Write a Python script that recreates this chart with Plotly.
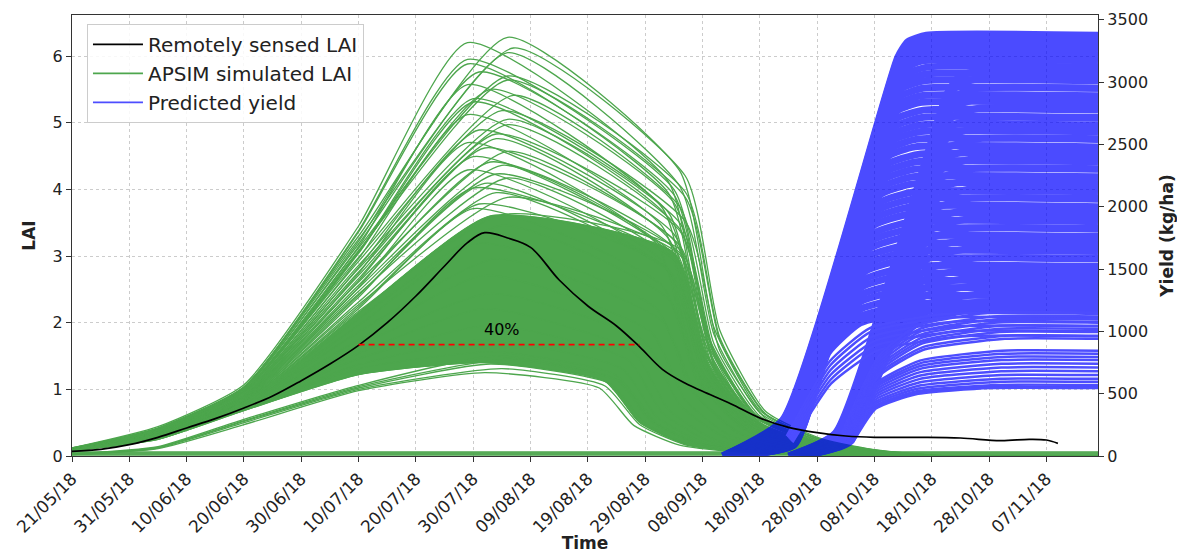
import pandas as pd
import plotly.graph_objects as go

BASE = pd.Timestamp("2018-05-21")
X_END_DAY = 179.0

# ---------------- axis ticks ----------------
tick_dates = ["2018-05-21", "2018-05-31", "2018-06-10", "2018-06-20", "2018-06-30",
              "2018-07-10", "2018-07-20", "2018-07-30", "2018-08-09", "2018-08-19",
              "2018-08-29", "2018-09-08", "2018-09-18", "2018-09-28", "2018-10-08",
              "2018-10-18", "2018-10-28", "2018-11-07"]
tick_labels = ["21/05/18", "31/05/18", "10/06/18", "20/06/18", "30/06/18", "10/07/18",
               "20/07/18", "30/07/18", "09/08/18", "19/08/18", "29/08/18", "08/09/18",
               "18/09/18", "28/09/18", "08/10/18", "18/10/18", "28/10/18", "07/11/18"]
lai_ticks = [0, 1, 2, 3, 4, 5, 6]
yield_ticks = [0, 500, 1000, 1500, 2000, 2500, 3000, 3500]

# ---------------- remotely sensed LAI (days after 21/05/18) ----------------
rs_day = [0, 5, 10, 15, 20, 25, 30, 35, 40, 45, 50, 55, 60, 65, 69, 72, 76, 80, 85, 90,
          95, 99, 103, 107, 110, 115, 120, 125, 130, 135, 140, 148, 155, 162, 167, 170, 172]
rs_lai = [0.07, 0.10, 0.17, 0.28, 0.42, 0.56, 0.72, 0.90, 1.13, 1.38, 1.66, 2.00, 2.40, 2.85,
          3.20, 3.35, 3.27, 3.13, 2.64, 2.25, 1.95, 1.64, 1.30, 1.09, 0.97, 0.78, 0.57, 0.43,
          0.35, 0.30, 0.28, 0.28, 0.27, 0.23, 0.25, 0.24, 0.19]

# 40 % threshold line
thr_day = [50, 99]
thr_lai = [1.67, 1.67]
thr_label_day = 75
thr_label_lai = 1.9

# ---------------- APSIM simulated LAI ensemble (key points per simulation) ----------------
g_start = [0.12, 0.12, 0.12, 0.11, 0.11, 0.11, 0.11, 0.11, 0.11, 0.10,
           0.10, 0.10, 0.10, 0.10, 0.10, 0.10, 0.10, 0.10, 0.10, 0.10,
           0.10, 0.10, 0.10, 0.10, 0.09, 0.09, 0.09, 0.09, 0.09, 0.09,
           0.09, 0.09, 0.09, 0.09, 0.09, 0.09, 0.09, 0.09,
           0.09, 0.08, 0.08, 0.08, 0.08, 0.08, 0.08, 0.08, 0.08, 0.08,
           0.03, 0.02, 0.02, 0.02, 0.03]
g_d15 = [0.42, 0.44, 0.42, 0.41, 0.41, 0.40, 0.40, 0.40, 0.39, 0.38,
         0.38, 0.38, 0.38, 0.37, 0.37, 0.36, 0.36, 0.36, 0.35, 0.35,
         0.35, 0.34, 0.34, 0.34, 0.33, 0.33, 0.33, 0.32, 0.32, 0.32,
         0.31, 0.31, 0.31, 0.31, 0.30, 0.30, 0.30, 0.30,
         0.30, 0.29, 0.28, 0.28, 0.27, 0.27, 0.26, 0.26, 0.25, 0.25,
         0.14, 0.13, 0.12, 0.11, 0.13]
g_d30 = [1.04, 1.07, 1.03, 1.02, 1.03, 1.01, 1.00, 0.99, 0.98, 0.97,
         0.97, 0.96, 0.96, 0.95, 0.94, 0.93, 0.92, 0.91, 0.90, 0.90,
         0.89, 0.88, 0.88, 0.87, 0.86, 0.86, 0.85, 0.84, 0.84, 0.83,
         0.82, 0.82, 0.81, 0.81, 0.80, 0.80, 0.80, 0.79,
         0.79, 0.77, 0.76, 0.75, 0.74, 0.73, 0.72, 0.71, 0.70, 0.68,
         0.55, 0.52, 0.50, 0.47, 0.53]
g_d50 = [3.30, 3.45, 3.25, 3.18, 3.38, 3.36, 3.22, 3.12, 3.08, 3.14,
         3.06, 2.98, 3.06, 3.04, 2.92, 2.96, 2.86, 2.81, 2.83, 2.76,
         2.71, 2.74, 2.66, 2.61, 2.63, 2.56, 2.52, 2.53, 2.47, 2.43,
         2.41, 2.38, 2.31, 2.27, 2.24, 2.21, 2.17, 2.15,
         2.06, 1.96, 1.86, 1.74, 1.66, 1.54, 1.46, 1.37, 1.31, 1.22,
         1.06, 1.02, 1.00, 0.98, 1.04]
g_peak_day = [76, 69, 77, 76, 69, 69, 71, 76, 76, 69,
              73, 77, 70, 70, 75, 69, 76, 76, 71, 74,
              74, 69, 72, 76, 70, 73, 75, 69, 74, 76,
              72, 70, 74, 76, 71, 70, 75, 73,
              75, 71, 74, 72, 73, 72, 73, 72, 74, 72,
              74, 73, 75, 72, 76]
g_peak = [6.28, 6.20, 6.12, 6.05, 5.95, 5.88, 5.76, 5.70, 5.64, 5.57,
          5.50, 5.41, 5.36, 5.31, 5.18, 5.12, 5.05, 4.97, 4.89, 4.83,
          4.76, 4.70, 4.62, 4.57, 4.49, 4.41, 4.36, 4.29, 4.23, 4.17,
          4.09, 4.02, 3.95, 3.88, 3.78, 3.71, 3.62, 3.60,
          3.46, 3.19, 2.96, 2.71, 2.44, 2.21, 1.96, 1.74, 1.56, 1.40,
          1.50, 1.38, 1.31, 1.25, 1.45]
g_drop_day = [106, 104, 107, 106, 105, 104, 105, 107, 107, 103,
              105, 106, 104, 104, 107, 103, 106, 106, 105, 106,
              104, 102, 105, 106, 104, 105, 105, 103, 106, 106,
              104, 105, 105, 106, 104, 103, 106, 105,
              104, 102, 103, 101, 100, 98, 97, 96, 95, 93,
              95, 94, 93, 92, 96]
g_drop = [4.28, 4.12, 4.20, 4.05, 4.00, 3.95, 3.92, 3.96, 3.88, 3.72,
          3.80, 3.74, 3.66, 3.58, 3.52, 3.44, 3.50, 3.41, 3.33, 3.38,
          3.27, 3.18, 3.24, 3.16, 3.06, 3.12, 3.02, 2.92, 3.05, 2.86,
          2.78, 2.95, 2.70, 3.02, 2.80, 2.55, 3.10, 3.05,
          2.36, 2.21, 2.02, 1.86, 1.71, 1.56, 1.44, 1.31, 1.21, 1.12,
          1.15, 1.08, 1.05, 1.02, 1.10]
# senescence tail read from the upper envelope (days after drop start, fraction of drop value)
tail_dt = [0, 6, 14, 24, 34, 46]
tail_frac = [1.0, 0.45, 0.16, 0.06, 0.02, 0.0]
# failed simulations lying flat near zero
flat_lai = [0.015, 0.03, 0.045, 0.06]
FILL_HIGH, FILL_LOW = 37, 47

# ---------------- predicted yield ensemble (kg/ha) ----------------
early_start = [113.50, 113.55, 113.60, 113.65, 113.70, 113.75, 113.80, 113.85, 113.90, 113.95,
               114.00, 114.05, 114.10, 114.15, 114.20, 114.25, 114.30, 114.35, 114.40, 114.45,
               114.50, 114.55, 114.60, 114.65, 114.70, 114.75, 114.80, 114.85, 114.90, 114.95,
               115.00, 115.05, 115.10, 115.15, 115.20, 115.25, 115.30, 115.35, 115.40, 115.45,
               115.50, 114.20, 114.40, 114.60, 114.80, 115.00, 115.20]
early_kink = [290, 284, 278, 272, 266, 260, 254, 248, 242, 236, 230, 224, 218, 212, 206, 200,
              194, 188, 182, 176, 170, 164, 158, 152, 147, 142, 137, 132, 127, 122, 117, 113,
              109, 105, 101, 98, 95, 93, 91, 90, 90, 160, 150, 140, 130, 120, 110]
early_rate = [145, 145, 144, 144, 143, 143, 142, 142, 141, 141, 140, 140, 139, 139, 138, 138,
              137, 137, 136, 136, 135, 135, 134, 134, 133, 133, 132, 132, 131, 131, 130, 130,
              129, 129, 128, 128, 127, 127, 126, 126, 125, 80, 78, 76, 74, 72, 70]
early_bend = [3200, 3170, 3150, 3110, 3070, 3020, 2970, 2920, 2860, 2800, 2740, 2680, 2620,
              2560, 2490, 2430, 2370, 2300, 2240, 2170, 2110, 2040, 1980, 1910, 1850, 1780,
              1720, 1650, 1580, 1520, 1450, 1390, 1320, 1260, 1190, 1130, 1060, 1000, 940,
              880, 830, 760, 730, 690, 650, 610, 580]
early_settle = [5, 5, 5, 5, 5, 5, 5, 6, 6, 6, 6, 6, 6, 7, 7, 7, 7, 7, 7, 8, 8, 8, 8, 8, 9, 9,
                9, 9, 10, 10, 10, 11, 11, 11, 12, 12, 13, 13, 14, 15, 16, 20, 20, 21, 22, 22, 23]
early_final = [3376, 3350, 3325, 3295, 3260, 3215, 3170, 3120, 3065, 3010, 2950, 2890, 2835,
               2775, 2715, 2655, 2600, 2540, 2480, 2420, 2360, 2300, 2240, 2180, 2120, 2060,
               2000, 1940, 1880, 1820, 1760, 1700, 1640, 1580, 1520, 1460, 1400, 1340, 1280,
               1220, 1170, 1140, 1110, 1075, 1040, 1000, 960]

late_start = [125.0, 125.1, 125.2, 125.3, 125.4, 125.5, 125.6, 125.7, 125.8, 125.9, 126.0,
              126.1, 126.2, 126.3, 126.4, 126.5, 126.6, 126.7, 126.8, 126.9, 127.0, 127.1,
              127.2, 127.3, 127.4, 127.5, 125.8, 126.0, 126.1, 126.2, 126.3, 126.4, 126.5,
              126.6, 126.7, 126.8, 126.9, 127.0, 127.1, 127.2, 127.3, 127.4, 127.5, 127.6,
              127.7, 127.8, 127.9, 128.0]
late_kink = [185, 182, 179, 176, 173, 170, 167, 164, 161, 158, 155, 152, 149, 146, 143, 140,
             137, 134, 131, 128, 125, 122, 119, 116, 114, 112, 152, 150, 148, 145, 142, 140,
             137, 135, 132, 130, 128, 126, 124, 122, 120, 118, 116, 114, 112, 110, 108, 106]
late_rate = [140, 139, 138, 137, 136, 135, 134, 133, 132, 131, 130, 129, 128, 127, 126, 125,
             124, 122, 120, 118, 116, 114, 112, 110, 108, 106, 96, 95, 94, 92, 91, 90, 89, 88,
             87, 86, 85, 84, 83, 82, 80, 78, 76, 75, 74, 72, 70, 68]
late_bend = [2900, 2820, 2740, 2650, 2570, 2480, 2400, 2310, 2230, 2140, 2060, 1970, 1890,
             1800, 1720, 1630, 1550, 1460, 1380, 1290, 1210, 1140, 1070, 1000, 940, 880, 800,
             780, 760, 740, 720, 700, 680, 660, 640, 580, 565, 550, 530, 510, 490, 470, 450,
             430, 415, 400, 390, 380]
late_settle = [6, 6, 6, 7, 7, 7, 7, 8, 8, 8, 8, 9, 9, 9, 10, 10, 10, 11, 11, 12, 12, 13, 13,
               14, 15, 16, 19, 20, 20, 20, 21, 21, 21, 22, 22, 22, 22, 22, 22, 22, 22, 22, 22,
               22, 22, 21, 21, 20]
late_final = [3100, 3030, 2950, 2870, 2790, 2710, 2630, 2545, 2465, 2385, 2305, 2225, 2145,
              2065, 1985, 1905, 1825, 1745, 1665, 1585, 1505, 1435, 1365, 1295, 1235, 1185,
              1150, 1120, 1095, 1070, 1045, 1020, 995, 965, 940, 845, 820, 795, 770, 740, 710,
              680, 650, 620, 595, 570, 555, 545]
EARLY_WEDGE_DAYS = 10.5
LATE_WEDGE_DAYS = 8.2
THIN_BELOW = 1160

# ---------------- styles ----------------
GREEN = "rgb(77,166,77)"
BLUE = "rgb(0,0,255)"
BLUE_LIGHT = "rgb(77,77,255)"
FONT = "DejaVu Sans"
G_SMOOTH = 0.55


def dates(days):
    return [BASE + pd.Timedelta(days=float(d)) for d in days]


def green_xy(i):
    d = [0, 15, 30, 50, g_peak_day[i]] + [g_drop_day[i] + t for t in tail_dt] + [X_END_DAY]
    v = [g_start[i], g_d15[i], g_d30[i], g_d50[i], g_peak[i]] + \
        [g_drop[i] * f for f in tail_frac] + [0.0]
    return d, v


def yield_xy(start, wedge, ky, rate, bend, settle, final):
    k = start + wedge
    tb = k + (bend - ky) / rate
    d = [start, k, tb, tb + 0.35 * settle, tb + settle, X_END_DAY]
    v = [0.0, ky, bend, bend + 0.7 * (final - bend), final, final]
    return d, v


fig = go.Figure()

# green ensemble: dense core as a filled band between two member curves
dL, vL = green_xy(FILL_LOW)
dH, vH = green_xy(FILL_HIGH)
fig.add_trace(go.Scatter(x=dates(dL), y=vL, mode="lines",
                         line=dict(color=GREEN, width=1, shape="spline", smoothing=G_SMOOTH),
                         showlegend=False, hoverinfo="skip"))
fig.add_trace(go.Scatter(x=dates(dH), y=vH, mode="lines", fill="tonexty", fillcolor=GREEN,
                         line=dict(color=GREEN, width=1, shape="spline", smoothing=G_SMOOTH),
                         showlegend=False, hoverinfo="skip"))

gx, gy = [], []
for i in range(len(g_peak)):
    d, v = green_xy(i)
    gx += dates(d) + [None]
    gy += v + [None]
for f in flat_lai:
    gx += dates([0, X_END_DAY]) + [None]
    gy += [f, f, None]
fig.add_trace(go.Scatter(x=gx, y=gy, mode="lines",
                         line=dict(color=GREEN, width=1.3, shape="spline", smoothing=G_SMOOTH),
                         showlegend=False, hoverinfo="skip", connectgaps=False))

# yield ensemble
thick_x, thick_y, thin_x, thin_y = [], [], [], []
cohorts = [
    (early_start, EARLY_WEDGE_DAYS, early_kink, early_rate, early_bend, early_settle, early_final),
    (late_start, LATE_WEDGE_DAYS, late_kink, late_rate, late_bend, late_settle, late_final),
]
for st, wedge, kk, rr, bb, ss, ff in cohorts:
    for i in range(len(ff)):
        d, v = yield_xy(st[i], wedge, kk[i], rr[i], bb[i], ss[i], ff[i])
        if ff[i] >= THIN_BELOW:
            thick_x += dates(d) + [None]
            thick_y += v + [None]
        else:
            thin_x += dates(d[1:]) + [None]
            thin_y += v[1:] + [None]

fig.add_trace(go.Scatter(x=thick_x, y=thick_y, yaxis="y2", mode="lines", opacity=0.7,
                         line=dict(color=BLUE, width=7, shape="spline", smoothing=0.5),
                         showlegend=False, hoverinfo="skip", connectgaps=False))
fig.add_trace(go.Scatter(x=thin_x, y=thin_y, yaxis="y2", mode="lines",
                         line=dict(color=BLUE_LIGHT, width=2.5, shape="spline", smoothing=0.5),
                         showlegend=False, hoverinfo="skip", connectgaps=False))

# remotely sensed LAI and threshold (top layer)
fig.add_trace(go.Scatter(x=dates(rs_day), y=rs_lai, yaxis="y3", mode="lines",
                         line=dict(color="black", width=1.7, shape="spline", smoothing=1),
                         showlegend=False, hoverinfo="skip"))
fig.add_trace(go.Scatter(x=dates(thr_day), y=thr_lai, yaxis="y3", mode="lines",
                         line=dict(color="red", width=1.6, dash="6px,4px"),
                         showlegend=False, hoverinfo="skip"))

# legend entries
for name, col in [("Remotely sensed LAI", "black"),
                  ("APSIM simulated LAI", GREEN),
                  ("Predicted yield", BLUE_LIGHT)]:
    fig.add_trace(go.Scatter(x=[None], y=[None], yaxis="y3", mode="lines", name=name,
                             line=dict(color=col, width=1.8)))

fig.add_annotation(x=dates([thr_label_day])[0], y=thr_label_lai, xref="x", yref="y",
                   text="40%", showarrow=False, font=dict(family=FONT, size=16, color="black"))

axis_line = dict(showline=True, linecolor="#333333", linewidth=1.3, ticks="outside",
                 ticklen=5, tickcolor="#333333", zeroline=False)
grid = dict(showgrid=True, gridcolor="#cccccc", gridwidth=0.8, griddash="3px,3px")

fig.update_layout(
    width=1177, height=553,
    margin=dict(l=72, r=79, t=15, b=97),
    paper_bgcolor="white", plot_bgcolor="white",
    font=dict(family=FONT, size=16, color="#222222"),
    legend=dict(x=0.0146, y=0.98, xanchor="left", yanchor="top", traceorder="normal",
                itemwidth=50,
                bgcolor="rgba(255,255,255,0.85)", bordercolor="#cccccc", borderwidth=1,
                font=dict(family=FONT, size=20, color="#222222")),
    xaxis=dict(type="date", range=dates([0, X_END_DAY]),
               tickvals=dates([(pd.Timestamp(t) - BASE).days for t in tick_dates]),
               ticktext=tick_labels, tickangle=-45, tickfont=dict(size=17),
               mirror=True, automargin=False,
               title=dict(text="<b>Time</b>", font=dict(size=17), standoff=2),
               **axis_line, **grid),
    yaxis=dict(range=[0, 6.615], tickvals=lai_ticks, tickfont=dict(size=16), automargin=False,
               title=dict(text="<b>LAI</b>", font=dict(size=17), standoff=12),
               **axis_line, **grid),
    yaxis2=dict(overlaying="y", side="right", range=[0, 3538], tickvals=yield_ticks,
                tickfont=dict(size=16), showgrid=False, automargin=False,
                title=dict(text="<b>Yield (kg/ha)</b>", font=dict(size=17), standoff=14),
                **axis_line),
    yaxis3=dict(overlaying="y", range=[0, 6.615], visible=False),
)

fig.write_html("out.html")
